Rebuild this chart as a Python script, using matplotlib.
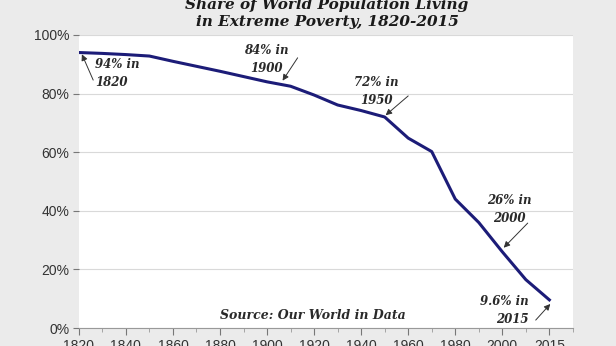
import matplotlib
matplotlib.use('Agg')
import matplotlib.pyplot as plt
import numpy as np

# Share of world population in extreme poverty (%)
years = ['1820', '1830', '1840', '1850', '1860', '1870', '1880', '1890', '1900', '1910',
         '1920', '1930', '1940', '1950', '1960', '1970', '1980', '1990', '2000', '2010', '2015']
share = [94, 93.7, 93.3, 92.8, 91.0, 89.3, 87.6, 85.8, 84, 82.5,
         79.5, 76.1, 74.2, 72, 64.8, 60.2, 44, 36, 26, 16.5, 9.6]
yticks = [0, 20, 40, 60, 80, 100]

BG = '#ebebeb'
SERIF = 'DejaVu Serif'
TXT = '#2a2a2a'

fig = plt.figure(figsize=(6.16, 3.46), dpi=100, facecolor=BG)
ax = fig.add_axes([0.128, 0.052, 0.802, 0.847])
ax.set_facecolor('white')

x = np.arange(len(years))
ax.plot(x, share, color='#1c1c78', lw=2.2, solid_joinstyle='round', zorder=3)

ax.set_xlim(0, len(years))
ax.set_ylim(0, 100)
major = [i for i in x if i % 2 == 0]
ax.set_xticks(major)
ax.set_xticklabels([years[i] for i in major], family='Liberation Sans', size=10, color='#333333')
ax.set_xticks([i for i in x if i % 2 == 1] + [len(years)], minor=True)
ax.set_yticks(yticks)
ax.set_yticklabels([f'{v}%' for v in yticks], family='Liberation Sans', size=10, color='#333333')
ax.tick_params(axis='x', which='major', length=5, color='#777777', pad=3)
ax.tick_params(axis='x', which='minor', length=3, color='#999999')
ax.tick_params(axis='y', length=4, color='#777777', pad=3)
for s in ('top', 'right', 'left'):
    ax.spines[s].set_visible(False)
ax.spines['bottom'].set_color('#999999')
ax.spines['bottom'].set_linewidth(0.8)
ax.grid(axis='y', color='#d9d9d9', lw=0.8, zorder=0)
ax.set_axisbelow(True)

fig.text(0.531, 0.962, 'Share of World Population Living\nin Extreme Poverty, 1820-2015',
         ha='center', va='center', family=SERIF, size=11, weight='bold', style='italic',
         color='#1a1a1a', linespacing=1.25)

# callouts: (text, text pos, alignment, arrow tail, arrow tip)
notes = [
    ('94% in\n1820', (0.7, 86.7), 'left', (0.61, 84.6), (0.13, 93.4)),
    ('84% in\n1900', (7.98, 91.5), 'center', (9.3, 92.2), (8.66, 84.4)),
    ('72% in\n1950', (12.66, 80.7), 'center', (14.0, 79.2), (13.04, 72.6)),
    ('26% in\n2000', (18.3, 40.3), 'center', (19.08, 35.8), (18.06, 27.4)),
    ('9.6% in\n2015', (19.12, 6.1), 'right', (19.42, 2.7), (20.04, 8.2)),
]
for label, pos, ha, tail, tip in notes:
    ax.text(pos[0], pos[1], label, ha=ha, va='center', family=SERIF, size=8.5,
            weight='bold', style='italic', color=TXT, linespacing=1.5, zorder=4)
    ax.annotate('', xy=tip, xytext=tail,
                arrowprops=dict(arrowstyle='-|>', color='#333333', lw=0.7,
                                mutation_scale=9, shrinkA=0, shrinkB=0), zorder=4)

ax.text(9.93, 4.4, 'Source: Our World in Data', ha='center', va='center', family=SERIF,
        size=9, weight='bold', style='italic', color=TXT, zorder=4)

fig.savefig('out.png', dpi=100, facecolor=BG)
